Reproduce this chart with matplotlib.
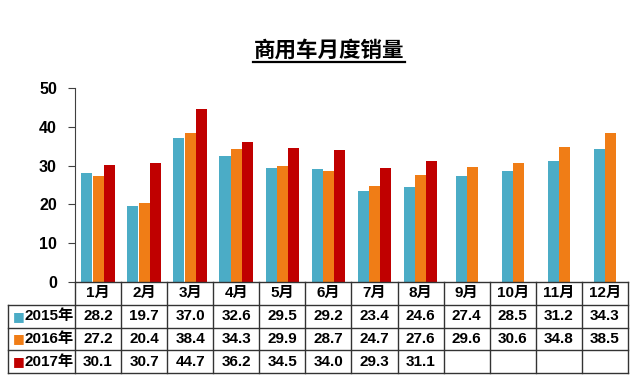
import matplotlib
matplotlib.use("Agg")
from matplotlib import pyplot as plt
import numpy as np

plt.rcParams["font.family"] = ["Liberation Sans", "Noto Sans CJK SC", "DejaVu Sans"]
plt.rcParams["font.weight"] = "bold"

months = ["1月", "2月", "3月", "4月", "5月", "6月", "7月", "8月", "9月", "10月", "11月", "12月"]
years = ["2015年", "2016年", "2017年"]
sales_2015 = [28.2, 19.7, 37.0, 32.6, 29.5, 29.2, 23.4, 24.6, 27.4, 28.5, 31.2, 34.3]
sales_2016 = [27.2, 20.4, 38.4, 34.3, 29.9, 28.7, 24.7, 27.6, 29.6, 30.6, 34.8, 38.5]
sales_2017 = [30.1, 30.7, 44.7, 36.2, 34.5, 34.0, 29.3, 31.1]
colors = ["#4BACC6", "#F07D16", "#C00000"]

W, H = 640, 389
fig = plt.figure(figsize=(W / 100, H / 100), dpi=100, facecolor="white")

x_left, x_right = 75, 628
y_top, y_zero = 88, 282
ax = fig.add_axes([x_left / W, 1 - y_zero / H, (x_right - x_left) / W, (y_zero - y_top) / H])

series = [sales_2015, sales_2016, sales_2017]
bw = 0.24
for i in range(len(months)):
    vals = [s[i] for s in series if i < len(s)]
    n = len(vals)
    for j, v in enumerate(vals):
        off = (j - (n - 1) / 2) * (bw + 0.005)
        ax.bar(i + 1 + off, v, width=bw, color=colors[j], linewidth=0)

ax.set_xlim(0.5, 12.5)
ax.set_ylim(0, 50)
ax.set_yticks(range(0, 51, 10))
ax.set_xticks([])
for s in ("top", "right", "bottom"):
    ax.spines[s].set_visible(False)
ax.spines["left"].set_color("#404040")
ax.tick_params(axis="y", direction="out", length=5, color="#404040", labelsize=11.5, pad=8)
for lab in ax.get_yticklabels():
    lab.set_fontweight("bold")

# title
fig.text(329 / W, 1 - 50 / H, "商用车月度销量", ha="center", va="center", fontsize=15.5,
         fontweight="bold", family=["Noto Sans CJK SC", "DejaVu Sans"])
fig.add_artist(plt.Line2D([253 / W, 405 / W], [1 - 62 / H, 1 - 62 / H], color="black", lw=1.6))

# table
row_h = 22.75
tab_left = 8
tx = fig.add_axes([x_left / W, 1 - (y_zero + 4 * row_h) / H, (x_right - x_left) / W, 4 * row_h / H])
tx.set_xlim(0.5, 12.5)
tx.set_ylim(4, 0)
tx.axis("off")
colw_px = (x_right - x_left) / 12
lab_left = 0.5 - (x_left - tab_left) / colw_px
lc = "#333333"
lk = dict(color=lc, lw=1.0, clip_on=False)
# horizontal lines
tx.plot([0.5, 12.5], [0, 0], **lk)
for r in (1, 2, 3, 4):
    tx.plot([lab_left, 12.5], [r, r], **lk)
# vertical lines
for c in range(13):
    tx.plot([c + 0.5, c + 0.5], [0, 4], **lk)
tx.plot([lab_left, lab_left], [1, 4], **lk)

for i, m in enumerate(months):
    tx.text(i + 1, 0.5, m, ha="center", va="center", fontsize=11, fontweight="bold")
for r, (yr, s) in enumerate(zip(years, series)):
    tx.text(lab_left + 0.1, r + 1.5, "■", ha="left", va="center", fontsize=9,
            color=colors[r], family=["DejaVu Sans"])
    tx.text(lab_left + 0.35, r + 1.5, yr, ha="left", va="center", fontsize=11, fontweight="bold")
    for i, v in enumerate(s):
        tx.text(i + 1, r + 1.5, f"{v:.1f}", ha="center", va="center", fontsize=11, fontweight="bold")

fig.savefig("out.png", dpi=100, facecolor="white")
